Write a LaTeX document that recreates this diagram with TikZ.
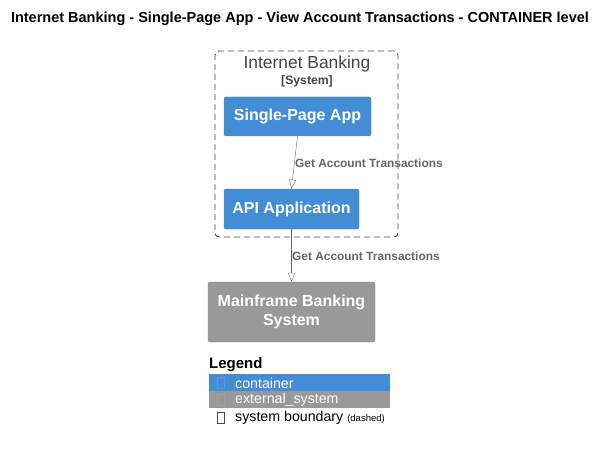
\documentclass[tikz,border=0pt]{standalone}
\usepackage{fontspec}
\setmainfont{Liberation Sans}
\usetikzlibrary{arrows.meta}

\definecolor{contblue}{HTML}{438DD5}
\definecolor{contline}{HTML}{3C7FC0}
\definecolor{extgray}{HTML}{999999}
\definecolor{extline}{HTML}{8A8A8A}
\definecolor{relgray}{HTML}{666666}
\definecolor{bndgray}{HTML}{444444}

\tikzset{
  container/.style={rectangle, rounded corners=2pt, fill=contblue, draw=contline,
    text=white, font=\fontsize{16}{18}\selectfont\bfseries, inner sep=0pt, align=center},
  extsys/.style={rectangle, rounded corners=2pt, fill=extgray, draw=extline,
    text=white, font=\fontsize{16}{19.5}\selectfont\bfseries, inner sep=0pt, align=center},
  boundary/.style={rectangle, rounded corners=4pt, draw=bndgray, line width=0.9pt, dash pattern=on 6pt off 4pt, inner sep=0pt},
  rel/.style={draw=relgray, -{Triangle[open, length=9pt, width=7pt]}},
  rellabel/.style={anchor=west, text=relgray, font=\fontsize{11.9}{13}\selectfont\bfseries, inner sep=0pt},
  legendrow/.style={anchor=west, font=\fontsize{14.2}{16}\selectfont, inner sep=0pt},
}

\begin{document}
\begin{tikzpicture}[x=1pt, y=-1pt]
    \useasboundingbox (0,0) rectangle (606,452);

    % title
    \node[font=\fontsize{14.5}{17}\selectfont\bfseries] (title) at (300,19)
        {Internet Banking - Single-Page App - View Account Transactions - CONTAINER level};

    % system boundary
    \node[boundary, minimum width=183pt, minimum height=186pt] (ibank) at (306.5,144) {};
    \node[font=\fontsize{17.4}{19}\selectfont, text=bndgray] (ibtitle) at (307,64) {Internet Banking};
    \node[font=\fontsize{12.2}{14}\selectfont\bfseries, text=bndgray] (ibtype) at (307,81) {[System]};

    % containers
    \node[container, minimum width=147pt, minimum height=39pt] (spa) at (297.5,116.5) {Single-Page App};
    \node[container, minimum width=135pt, minimum height=40pt] (api) at (291.5,209) {API Application};

    % external system
    \node[extsys, minimum width=167pt, minimum height=60pt] (mainframe) at (291.5,312) {Mainframe Banking\\System};

    % relations
    \draw[rel] (spa.south) -- (api.north);
    \node[rellabel] (lbl1) at (295,163) {Get Account Transactions};
    \draw[rel] (api.south) -- (mainframe.north);
    \node[rellabel] (lbl2) at (292,256) {Get Account Transactions};

    % legend
    \node[anchor=west, font=\fontsize{15}{17}\selectfont\bfseries, inner sep=0pt] (legend) at (209,365) {Legend};
    \fill[contblue] (209,374) rectangle (390,391);
    \fill[extgray] (209,391) rectangle (390,408);
    \draw[contline!80!white, line width=0.5pt] (217.5,377.5) rectangle (224.5,388.5);
    \draw[extline!80!white, line width=0.5pt] (217.5,394.5) rectangle (224.5,405.5);
    \draw[black!70, line width=0.5pt] (217.5,412.5) rectangle (224.5,423.5);
    \node[legendrow, text=white] (lgcont) at (235,383) {container};
    \node[legendrow, text=white] (lgext) at (235,400) {external\_system};
    \node[legendrow] (lgbnd) at (235,418) {system boundary \fontsize{9.5}{10}\selectfont(dashed)};
\end{tikzpicture}
\end{document}
